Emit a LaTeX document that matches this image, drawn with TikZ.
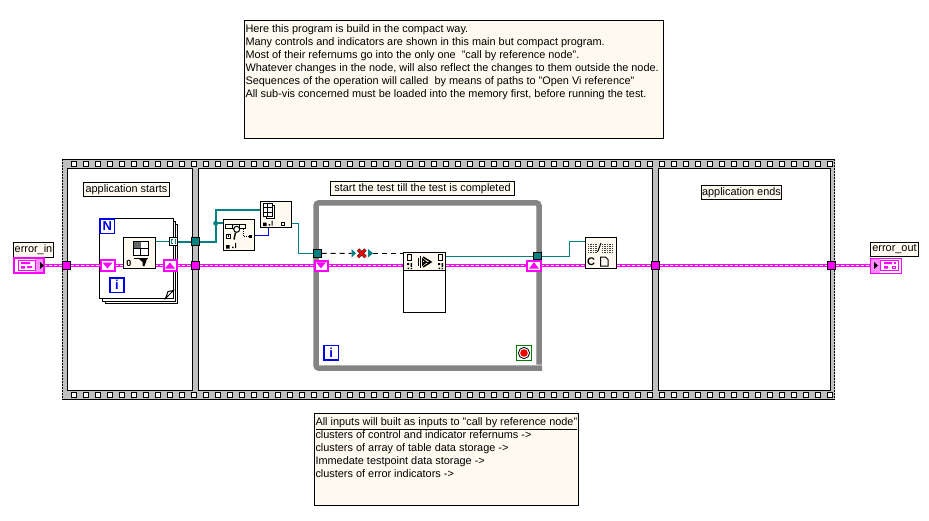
\documentclass[tikz,border=0pt]{standalone}
\usepackage{fontspec}
\setmainfont{Liberation Sans}
\usetikzlibrary{calc}
\definecolor{cream}{HTML}{FFFAF0}
\definecolor{film}{HTML}{C0C0C0}
\definecolor{loopgray}{HTML}{848484}
\definecolor{lvteal}{HTML}{008080}
\definecolor{lvpink}{HTML}{FF00FF}
\definecolor{lvblue}{HTML}{0000E8}
\definecolor{lvgreen}{HTML}{007A00}
\pgfdeclarelayer{bg}\pgfdeclarelayer{wirelayer}
\pgfsetlayers{bg,wirelayer,main}
\newcommand{\pxbox}[7][]{%
  \pgfmathsetmacro{\cxx}{(#3+#5)/2}\pgfmathsetmacro{\cyy}{(#4+#6)/2}%
  \pgfmathsetmacro{\wdd}{#5-#3}\pgfmathsetmacro{\htt}{#6-#4}%
  \node[#1,minimum width=\wdd pt,minimum height=\htt pt] (#2) at (\cxx,\cyy) {#7};}
\tikzset{
  x=1pt,y=-1pt,
  every node/.style={inner sep=0pt,outer sep=0pt},
  txt/.style={font=\fontsize{10.9}{13}\selectfont},
  note/.style={draw=black,line width=1pt,fill=cream},
  lbl/.style={draw=black,line width=1pt,fill=cream,txt},
  pane/.style={draw=black,line width=1pt,fill=white},
  page/.style={draw=black,line width=1pt,fill=white},
  icon/.style={draw=black,line width=1pt,fill=cream},
  pinktun/.style={draw=black,line width=1pt,fill=lvpink},
  tealtun/.style={draw=black,line width=1pt,fill=lvteal},
  srbox/.style={draw=lvpink,line width=2pt,fill=white},
  termbox/.style={draw=lvpink,line width=1pt,fill=white},
  idxbox/.style={draw=lvblue,line width=1.5pt,fill=white,text=lvblue,font=\fontsize{13}{13}\bfseries\selectfont},
  pinkwire/.style={draw=lvpink,line width=3pt,postaction={draw=white,line width=1pt,dash pattern=on 3pt off 2pt}},
  tealthick/.style={draw=lvteal,line width=2pt},
  tealthin/.style={draw=lvteal,line width=1pt},
  bluewire/.style={draw=lvblue,line width=1pt},
  breakwire/.style={draw=black,line width=1pt,dash pattern=on 5pt off 4pt},
}
\begin{document}
\begin{tikzpicture}
\useasboundingbox (0,0) rectangle (929,520);

% ---- notes
\pxbox[note]{topnote}{244.5}{20.5}{663.5}{138}{}
\node[txt,anchor=north west,align=left] (toptext) at (245.5,25) {Here this program is build in the compact way.\\
Many controls and indicators are shown in this main but compact program.\\
Most of their refernums go into the only one~ "call by reference node".\\
Whatever changes in the node, will also reflect the changes to them outside the node.\\
Sequences of the operation will called~ by means of paths to "Open Vi reference"\\
All sub-vis concerned must be loaded into the memory first, before running the test.};
\pxbox[note]{botnote}{314.5}{413.5}{578.5}{505.5}{}
\node[txt,anchor=north west,align=left] (bottext) at (315.5,418) {\underline{All inputs will built as inputs to "call by reference node"}\\
clusters of control and indicator refernums ->\\
clusters of array of table data storage ->\\
Immedate testpoint data storage ->\\
clusters of error indicators ->};

% ---- sequence frame
\begin{pgfonlayer}{bg}
\fill[white] (0,0) rectangle (929,520);
\fill[film] (62,159) rectangle (835,400);
\draw[black,line width=1pt] (62,159.5) -- (835,159.5) (62,399.5) -- (835,399.5);
\draw[black,line width=1pt,dash pattern=on 1.5pt off 1.5pt] (62.5,159) -- (62.5,400) (834.5,159) -- (834.5,400);
\foreach \k in {0,...,63}{
  \pgfmathsetmacro{\sx}{74+12*\k}
  \draw[black,fill=white,line width=1pt] (\sx-2.5,161.7) rectangle (\sx+2.5,166.3);
  \draw[black,fill=white,line width=1pt] (\sx-2.5,392.5) rectangle (\sx+2.5,397.2);
}
\pxbox[pane]{paneA}{67.5}{168.5}{192.5}{390.5}{}
\pxbox[pane]{paneB}{198.5}{168.5}{652.5}{390.5}{}
\pxbox[pane]{paneC}{658.5}{168.5}{830.5}{390.5}{}
\end{pgfonlayer}

\pxbox[lbl]{labA}{83.5}{182.5}{169.5}{196.5}{application starts}
\pxbox[lbl]{labB}{330.5}{181.5}{514.5}{195.5}{start the test till the test is completed}
\pxbox[lbl]{labC}{701.5}{185.5}{781.5}{199.5}{application ends}

% ---- while loop frame
\begin{pgfonlayer}{wirelayer}
\draw[loopgray,line width=5.5pt,rounded corners=3pt] (539,364.5) -- (539,202.8) -- (316,202.8) -- (316,368.2) -- (542,368.2);
\end{pgfonlayer}

% ---- terminals
\pxbox[lbl]{labIn}{13.5}{242.5}{53.5}{257}{error\_in}
\pxbox[lbl]{labOut}{870.5}{242.5}{918.5}{256.5}{error\_out}
\pxbox[srbox]{termIn}{14}{258}{44}{273}{}
\pxbox[termbox]{termOut}{870.5}{258}{901.5}{273}{}
% error_in glyph
\fill[lvpink!45!white] (35,259) rectangle (43,272);
\fill[black] (40,262) -- (44,265.5) -- (40,269) -- cycle;
\draw[lvpink,line width=1pt] (18,260.5) rectangle (35,270.5);
\fill[lvpink] (21,262) rectangle (30,264) (21,266) rectangle (25,268.5) (27,266) rectangle (32,268);
% error_out glyph
\fill[lvpink!45!white] (871,258.5) rectangle (880,272.5);
\fill[black] (874,262) -- (878,265.5) -- (874,269) -- cycle;
\draw[lvpink,line width=1pt] (880,260.5) rectangle (898,270.5);
\fill[lvpink] (884,262) rectangle (892,264) (884,266) rectangle (888,268.5) (894,262) rectangle (896,264);
\draw[lvpink,line width=1pt] (892.5,266) rectangle (895.5,268.5);

% ---- for loop
\begin{pgfonlayer}{wirelayer}
\pxbox[page]{pageC}{105}{224}{177.5}{303}{}
\pxbox[page]{pageB}{102}{221}{175.5}{301}{}
\pxbox[page]{forloop}{99.5}{218.5}{173.5}{298.5}{}
\end{pgfonlayer}
\draw[black,line width=1pt] (165.5,298.5) -- (173.5,290.5) -- (168,291.5) -- cycle;
\pxbox[idxbox]{idxN}{100}{219}{114.5}{233.5}{N}
\pxbox[idxbox]{idxI}{110}{278}{124}{292.5}{i}
\pxbox[icon]{subInit}{123.5}{237.5}{155}{268.5}{}
% init-array icon
\draw[black,line width=1pt,fill=white] (133.5,241) rectangle (148,255);
\draw[black,line width=1pt] (140.7,241) -- (140.7,255) (133.5,248) -- (148,248);
\fill[black!60] (134,241.5) rectangle (140.5,247.5);
\draw[black,line width=1pt] (133.5,258) -- (147.5,258);
\fill[black] (139,259) -- (147,259) -- (144.5,266) -- (142.5,266) -- (142.5,262) -- cycle;
\node[font=\fontsize{9}{9}\bfseries\selectfont] (zero) at (129,263) {0};
\pxbox[srbox]{srDA}{100.5}{260}{114.5}{271}{}
\fill[lvpink] (102.5,262.5) -- (112.5,262.5) -- (107.5,268.5) -- cycle;
\pxbox[srbox]{srUA}{163.5}{260}{176.5}{271}{}
\fill[lvpink] (165,268.5) -- (175,268.5) -- (170,262.5) -- cycle;
\pxbox[icon]{arrTun}{169.5}{237.5}{177.5}{245.5}{}
\draw[lvteal,line width=.8pt] (172.5,239.5) -- (171.5,239.5) -- (171.5,243.5) -- (172.5,243.5) (174.5,239.5) -- (175.5,239.5) -- (175.5,243.5) -- (174.5,243.5);

% ---- sequence tunnels
\pxbox[pinktun]{tunA}{62.5}{261.5}{70.5}{269.5}{}
\pxbox[pinktun]{tunB}{191.5}{261.5}{199.5}{269.5}{}
\pxbox[pinktun]{tunC}{651.5}{261.5}{659.5}{269.5}{}
\pxbox[pinktun]{tunD}{827.5}{261.5}{835.5}{269.5}{}
\pxbox[tealtun]{tunRef}{191.5}{237.5}{199.5}{245.5}{}

% ---- nodes in pane B
\pxbox[icon]{nodeA}{223.5}{219.5}{254.5}{250.5}{}
\draw[black,line width=1pt] (225.5,224.5) rectangle (245.5,228.5) (232,224.5) -- (232,228.5) (239,224.5) -- (239,228.5);
\draw[black,line width=1pt,fill=white] (236.7,229.3) circle (3);
\draw[black,line width=1.4pt] (235.5,232.5) -- (234,239.5);
\draw[black,line width=.8pt,fill=white] (226.5,234) rectangle (230.5,238);
\fill[black] (227.7,235.2) rectangle (229.3,236.8);
\draw[black,line width=.8pt,dash pattern=on 1pt off 1pt] (243,229) -- (243,236.5) -- (248,236.5);
\fill[black] (249,234.8) rectangle (252,238);
\fill[black] (226,245) rectangle (229.5,248.5) (232,246.5) rectangle (233.5,248) (235,243) rectangle (236,248);
\pxbox[icon]{nodeB}{260.5}{201.5}{291.5}{227.5}{}
\draw[black,line width=.8pt,fill=white] (266,205) rectangle (274,218);
\draw[black,line width=.8pt,fill=white] (263.5,203.5) rectangle (272,216.5);
\draw[black,line width=.8pt] (263.5,207.8) -- (272,207.8) (263.5,212.1) -- (272,212.1) (267.7,203.5) -- (267.7,216.5);
\fill[black] (263,222.5) rectangle (266.5,226) (268.5,224) rectangle (270,225.5) (271.5,220.5) rectangle (272.5,225.5);
\draw[black,line width=1pt] (281,222) rectangle (284.5,225.5);
\pxbox[tealtun]{tunLoop}{313.5}{249.5}{321.5}{257.5}{}
\pxbox[srbox]{srDB}{314.5}{260.5}{327.5}{270.5}{}
\fill[lvpink] (316,262.3) -- (326,262.3) -- (321,268.3) -- cycle;
\pxbox[srbox]{srUB}{527}{260.5}{541}{270.5}{}
\fill[lvpink] (529,268.7) -- (539,268.7) -- (534,262.2) -- cycle;
\pxbox[tealtun]{tunOut}{533.5}{252.5}{541.5}{259.5}{}
\pxbox[page]{nodeD}{403.5}{252.5}{445.5}{312.5}{}
\path[fill=cream,draw=black,line width=1pt] (403.5,252.5) rectangle (445.5,270.5);
% call-by-reference header glyphs
\foreach \dx in {0,31}{
  \draw[black,line width=.8pt] (407.5+\dx,254.5) rectangle (411.5+\dx,260);
  \fill[black] (407+\dx,263) rectangle (409+\dx,265) (410.5+\dx,263) rectangle (412+\dx,267) (407.5+\dx,267.5) rectangle (409+\dx,269) (410.5+\dx,268) rectangle (412+\dx,269);
}
\draw[black,line width=1.5pt] (423,257) -- (431,262) -- (423,267);
\draw[black,line width=1.5pt] (423,259.5) -- (426,262) -- (423,264.5);
\draw[black,line width=1pt] (418,258) -- (418,266) (420,256) -- (420,268) (422,258) -- (422,266);
\draw[black,line width=1pt] (422,262) -- (429,262);
\pxbox[icon]{nodeC}{585.5}{237.5}{616.5}{268.5}{}
\foreach \py in {244,246,248,250,252}{
  \foreach \px in {588,590.4,592.8,595.2}{\fill[black!75] (\px,\py) rectangle ++(1.3,1.3);}
  \foreach \px in {602,604.4,606.8,609.2,611.6}{\fill[black!75] (\px,\py) rectangle ++(1.3,1.3);}
}
\draw[black,line width=1pt] (597.5,252) -- (601,243);
\node[font=\fontsize{11}{11}\bfseries\selectfont] (letC) at (591,262) {C};
\draw[black,line width=1pt] (600.5,257) -- (605.5,257) -- (608,259.5) -- (608,266) -- (600.5,266) -- cycle;
% stop button
\pxbox[draw=lvgreen,line width=1pt,fill=white]{stopT}{516.5}{345.5}{531.5}{360.5}{}
\draw[black,line width=.8pt,fill=white] (524,353) circle (5.6);
\fill[red!95!black] (524,353) circle (3.8);
\pxbox[idxbox]{idxW}{324}{345.5}{338.5}{360}{i}
% broken wire mark
\fill[lvteal] (351.5,249) -- (356,253.3) -- (351.5,257.5) -- cycle;
\fill[lvteal] (368,249) -- (373,253.3) -- (368,257.5) -- cycle;
\draw[black!80,line width=3.2pt] (358,249.5) -- (365.5,257) (365.5,249.5) -- (358,257);
\draw[red,line width=2pt] (358,249.5) -- (365.5,257) (365.5,249.5) -- (358,257);
\coordinate (brkL) at (351.5,253.3);
\coordinate (brkR) at (373,253.3);

% ---- wires
\begin{pgfonlayer}{wirelayer}
\draw[pinkwire] (termIn) -- (tunA);
\draw[pinkwire] (tunA) -- (srDA);
\draw[pinkwire] (srDA) -- (srDA -| subInit.west);
\draw[pinkwire] (subInit.east |- srUA) -- (srUA);
\draw[pinkwire] (srUA) -- (tunB);
\draw[pinkwire] (tunB) -- (srDB);
\draw[pinkwire] (srDB) -- (srDB -| nodeD.west);
\draw[pinkwire] (srDB -| nodeD.east) -- (srUB);
\draw[pinkwire] (srUB) -- (srUB -| nodeC.west);
\draw[pinkwire] (srUB -| nodeC.east) -- (tunC);
\draw[pinkwire] (tunC) -- (tunD);
\draw[pinkwire] (tunD) -- (termOut);
\draw[tealthin] (subInit.east |- arrTun) -- (arrTun);
\draw[tealthick] (arrTun) -- (tunRef);
\draw[tealthick] (tunRef.east) -- (215.7,241.5) -- (215.7,210) -- (nodeB.west |- 0,210);
\draw[tealthick] (215.7,223.3) -- (nodeA.west |- 0,223.3);
\fill[lvteal] (215.7,223.3) circle (2.5);
\draw[bluewire] (nodeA.east |- 0,235) -- (268.7,235) -- (268.7,227.5);
\draw[tealthin] (nodeB.east |- 0,223.3) -- (298.7,223.3) -- (298.7,253.5) -- (tunLoop.west);
\draw[breakwire] (tunLoop.east) -- (brkL);
\draw[breakwire] (brkR) -- (nodeD.west |- brkR);
\draw[tealthin] (nodeD.east |- 0,256.3) -- (tunOut.west |- 0,256.3);
\draw[tealthin] (tunOut.east |- 0,256.3) -- (569.3,256.3) -- (569.3,241.3) -- (nodeC.west |- 0,241.3);
\end{pgfonlayer}
\end{tikzpicture}
\end{document}
